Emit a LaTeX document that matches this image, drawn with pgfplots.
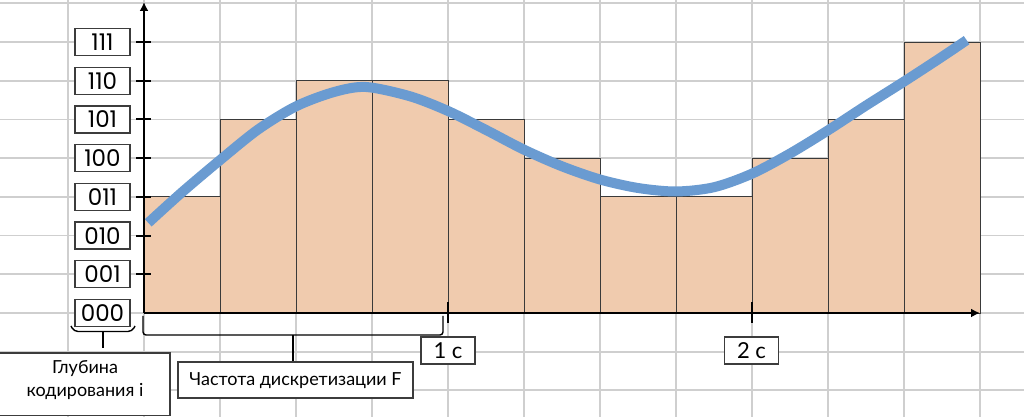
\documentclass[border=0pt]{standalone}
\usepackage{fontspec}
\usepackage{pgfplots}
\pgfplotsset{compat=1.18}
\usetikzlibrary{arrows.meta}
\setmainfont{Lato}
\newfontfamily\digits{Poppins}

\definecolor{gridgray}{HTML}{CFCFCF}
\definecolor{barfill}{HTML}{F0CBAE}
\definecolor{baredge}{HTML}{3A3A3A}
\definecolor{curveblue}{HTML}{6A9BD1}
\definecolor{boxedge}{HTML}{3C3C3C}

\begin{document}
\begin{tikzpicture}
\begin{axis}[
    scale only axis, width=512pt, height=208.5pt,
    xmin=-0.473684, xmax=2.894737,
    ymin=-2.687339, ymax=8.087855,
    axis line style={draw=none},
    xtick={-0.25,0,...,2.75}, ytick={-2,...,8},
    xticklabels={}, yticklabels={},
    xtick style={draw=none}, ytick style={draw=none},
    grid=major,
    major grid style={gridgray, line width=0.9pt},
    clip=false,
]
% quantised samples (level 0..7), one every 0.25 s
\addplot[ybar interval, fill=barfill, draw=baredge, line width=0.45pt] coordinates {
    (0,3) (0.25,5) (0.5,6) (0.75,6) (1,5) (1.25,4) (1.5,3) (1.75,3)
    (2,4) (2.25,5) (2.5,7) (2.75,7)
};
% analog signal
\addplot[smooth, curveblue, line width=5pt] coordinates {
    (0.014,2.33) (0.125,3.12) (0.25,3.95) (0.375,4.74) (0.5,5.34)
    (0.625,5.71) (0.73,5.84) (0.875,5.60) (1.0,5.22) (1.125,4.73)
    (1.25,4.22) (1.375,3.79) (1.5,3.45) (1.625,3.23) (1.75,3.14)
    (1.875,3.25) (2.0,3.60) (2.125,4.12) (2.25,4.72) (2.375,5.36)
    (2.5,5.98) (2.625,6.62) (2.706,7.05)
};
\end{axis}

% annotations in pixel units of the 1024x417 frame (y downwards)
\begin{scope}[x=0.5pt, y=-0.5pt, shift={(0pt,208.5pt)}]
    \draw[line width=1.1pt, -{Latex[length=4.5pt,width=4.5pt]}] (144,313.5) -- (144,2);
    \draw[line width=1pt, -{Latex[length=4.5pt,width=4.5pt]}] (143.5,313) -- (980,313);
    \foreach \k in {1,...,7}
        \draw[line width=1pt] (136,{313-38.7*\k}) -- (151,{313-38.7*\k});
    \draw[line width=0.7pt] (448,302) -- (448,323);
    \draw[line width=0.7pt] (752,302) -- (752,323);

    \foreach \k/\t in {0/000,1/001,2/010,3/011,4/100,5/101,6/110,7/111}
        \node[draw=boxedge, fill=white, line width=0.6pt, minimum width=27.5pt,
              minimum height=13.5pt, inner sep=0pt,
              font=\digits\fontsize{11.5}{12}\selectfont]
            at (102.5,{313-38.7*\k}) {\t};

    \node[draw=boxedge, fill=white, line width=0.6pt, minimum width=27pt,
          minimum height=13.5pt, inner sep=0pt, font=\fontsize{11}{12}\selectfont]
        at (448,350.5) {1 с};
    \node[draw=boxedge, fill=white, line width=0.6pt, minimum width=27pt,
          minimum height=13.5pt, inner sep=0pt, font=\fontsize{11}{12}\selectfont]
        at (751.5,350.5) {2 с};

    % braces
    \draw[line width=0.7pt, rounded corners=1.5pt]
        (143,316) -- (143,335) -- (443,335) -- (443,316);
    \draw[line width=0.7pt] (293,335) -- (293,362);
    \draw[line width=0.7pt, rounded corners=2pt]
        (71,326) -- (74,331.5) -- (132,331.5) -- (135,326);
    \draw[line width=0.7pt] (103,331.5) -- (103,348);

    \draw[boxedge, fill=white, line width=0.6pt] (178,362) rectangle (413,398);
    \node[font=\fontsize{9}{11}\selectfont] at (295.5,380.5) {Частота дискретизации F};

    \draw[boxedge, fill=white, line width=0.6pt] (-2,353) rectangle (170,415.5);
    \node[align=center, font=\fontsize{9}{11.5}\selectfont] at (85,380)
        {Глубина\\кодирования i};
\end{scope}
\pgfresetboundingbox
\path (0,0) rectangle (512pt,208.5pt);
\end{tikzpicture}
\end{document}
